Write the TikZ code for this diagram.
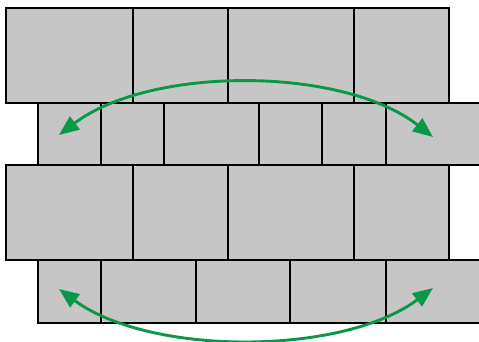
\documentclass[tikz,border=0pt]{standalone}
\usetikzlibrary{arrows.meta}
\definecolor{brickgray}{RGB}{198,198,198}
\definecolor{arrowgreen}{RGB}{8,152,72}
\begin{document}
\begin{tikzpicture}[x=1pt,y=-1pt,
  brick/.style={draw=black,fill=brickgray,line width=2.9pt,inner sep=0pt,outer sep=0pt},
  swap/.style={draw=arrowgreen,line width=2.9pt,{Triangle[length=20pt,width=16pt]}-{Triangle[length=20pt,width=16pt]}}]
\useasboundingbox (0,0) rectangle (479,342);
% row 1
\node[brick,minimum width=127pt,minimum height=95pt] (a1) at (69.5,55.5) {};
\node[brick,minimum width=95pt,minimum height=95pt] (a2) at (180.5,55.5) {};
\node[brick,minimum width=126pt,minimum height=95pt] (a3) at (291,55.5) {};
\node[brick,minimum width=95pt,minimum height=95pt] (a4) at (401.5,55.5) {};
% row 2
\node[brick,minimum width=63pt,minimum height=62pt] (b1) at (69.5,134) {};
\node[brick,minimum width=63pt,minimum height=62pt] (b2) at (132.5,134) {};
\node[brick,minimum width=95pt,minimum height=62pt] (b3) at (211.5,134) {};
\node[brick,minimum width=63pt,minimum height=62pt] (b4) at (290.5,134) {};
\node[brick,minimum width=64pt,minimum height=62pt] (b5) at (354,134) {};
\node[brick,minimum width=109pt,minimum height=62pt] (b6) at (440.5,134) {};
% row 3
\node[brick,minimum width=127pt,minimum height=95pt] (c1) at (69.5,212.5) {};
\node[brick,minimum width=95pt,minimum height=95pt] (c2) at (180.5,212.5) {};
\node[brick,minimum width=126pt,minimum height=95pt] (c3) at (291,212.5) {};
\node[brick,minimum width=95pt,minimum height=95pt] (c4) at (401.5,212.5) {};
% row 4
\node[brick,minimum width=63pt,minimum height=63pt] (d1) at (69.5,291.5) {};
\node[brick,minimum width=95pt,minimum height=63pt] (d2) at (148.5,291.5) {};
\node[brick,minimum width=94pt,minimum height=63pt] (d3) at (243,291.5) {};
\node[brick,minimum width=96pt,minimum height=63pt] (d4) at (338,291.5) {};
\node[brick,minimum width=109pt,minimum height=63pt] (d5) at (440.5,291.5) {};
% arrow ends
\coordinate (t1) at (59,135);
\coordinate (t2) at (433,137);
\coordinate (u1) at (59,289);
\coordinate (u2) at (433,288);
\draw[swap] (t1) .. controls (150,66) and (342,66) .. (t2);
\draw[swap] (u1) .. controls (150,356) and (342,356) .. (u2);
\end{tikzpicture}
\end{document}
